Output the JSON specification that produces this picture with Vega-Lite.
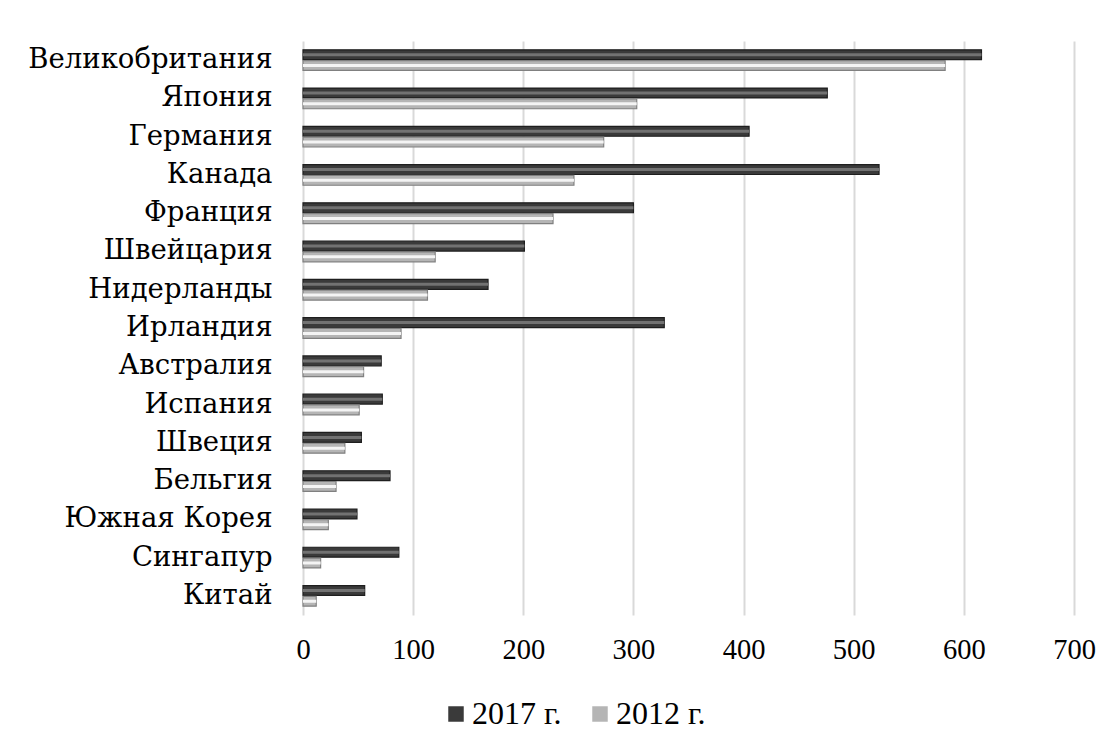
{
  "$schema": "https://vega.github.io/schema/vega-lite/v6.json",
  "autosize": {"type": "none"},
  "width": 771,
  "height": 574,
  "padding": {"left": 303, "top": 41, "right": 41, "bottom": 132},
  "background": "white",
  "config": {"view": {"stroke": null}, "font": "Liberation Serif"},
  "data": {
    "values": [
      {"country": "Великобритания", "year": "2017 г.", "value": 616},
      {"country": "Великобритания", "year": "2012 г.", "value": 583},
      {"country": "Япония", "year": "2017 г.", "value": 476},
      {"country": "Япония", "year": "2012 г.", "value": 303},
      {"country": "Германия", "year": "2017 г.", "value": 405},
      {"country": "Германия", "year": "2012 г.", "value": 273},
      {"country": "Канада", "year": "2017 г.", "value": 523},
      {"country": "Канада", "year": "2012 г.", "value": 246},
      {"country": "Франция", "year": "2017 г.", "value": 300},
      {"country": "Франция", "year": "2012 г.", "value": 227},
      {"country": "Швейцария", "year": "2017 г.", "value": 201},
      {"country": "Швейцария", "year": "2012 г.", "value": 120},
      {"country": "Нидерланды", "year": "2017 г.", "value": 168},
      {"country": "Нидерланды", "year": "2012 г.", "value": 113},
      {"country": "Ирландия", "year": "2017 г.", "value": 328},
      {"country": "Ирландия", "year": "2012 г.", "value": 89},
      {"country": "Австралия", "year": "2017 г.", "value": 71},
      {"country": "Австралия", "year": "2012 г.", "value": 55},
      {"country": "Испания", "year": "2017 г.", "value": 72},
      {"country": "Испания", "year": "2012 г.", "value": 51},
      {"country": "Швеция", "year": "2017 г.", "value": 53},
      {"country": "Швеция", "year": "2012 г.", "value": 38},
      {"country": "Бельгия", "year": "2017 г.", "value": 79},
      {"country": "Бельгия", "year": "2012 г.", "value": 30},
      {"country": "Южная Корея", "year": "2017 г.", "value": 49},
      {"country": "Южная Корея", "year": "2012 г.", "value": 23},
      {"country": "Сингапур", "year": "2017 г.", "value": 87},
      {"country": "Сингапур", "year": "2012 г.", "value": 16},
      {"country": "Китай", "year": "2017 г.", "value": 56},
      {"country": "Китай", "year": "2012 г.", "value": 12}
    ]
  },
  "encoding": {
    "y": {
      "field": "country",
      "type": "nominal",
      "sort": ["Великобритания", "Япония", "Германия", "Канада", "Франция", "Швейцария", "Нидерланды", "Ирландия", "Австралия", "Испания", "Швеция", "Бельгия", "Южная Корея", "Сингапур", "Китай"],
      "scale": {"paddingInner": 0.46, "paddingOuter": 0.23},
      "axis": {"title": null, "domain": false, "ticks": false, "labelFont": "DejaVu Serif", "labelFontSize": 27.5, "labelColor": "#000000", "labelPadding": 31, "labelLimit": 400}
    },
    "yOffset": {
      "field": "year",
      "type": "nominal",
      "scale": {"domain": ["2017 г.", "2012 г."], "paddingInner": 0.08}
    },
    "x": {
      "field": "value",
      "type": "quantitative",
      "scale": {"domain": [0, 700], "nice": false},
      "axis": {"title": null, "values": [0, 100, 200, 300, 400, 500, 600, 700], "domain": false, "ticks": false, "grid": true, "gridColor": "#d9d9d9", "gridWidth": 2, "labelFont": "Liberation Serif", "labelFontSize": 28.5, "labelColor": "#000000", "labelPadding": 20, "labelFlush": false}
    }
  },
  "layer": [
    {
      "mark": {"type": "bar", "strokeWidth": 1.2},
      "encoding": {
        "color": {
          "field": "year",
          "type": "nominal",
          "scale": {"domain": ["2017 г.", "2012 г."], "range": ["#3a3a3a", "#b5b5b5"]},
          "legend": {"title": null, "orient": "none", "direction": "horizontal", "legendX": 137, "legendY": 657, "symbolType": "square", "symbolSize": 240, "symbolStrokeWidth": 0, "labelFont": "Liberation Serif", "labelFontSize": 32, "labelColor": "#000000", "labelOffset": 0, "columnPadding": 22, "padding": 0}
        },
        "stroke": {
          "field": "year",
          "type": "nominal",
          "scale": {"domain": ["2017 г.", "2012 г."], "range": ["#1e1e1e", "#808080"]},
          "legend": null
        }
      }
    },
    {
      "mark": {"type": "bar", "size": 3},
      "encoding": {
        "fill": {
          "field": "year",
          "type": "nominal",
          "scale": {"domain": ["2017 г.", "2012 г."], "range": ["#727272", "#f4f4f4"]},
          "legend": null
        }
      }
    }
  ]
}
